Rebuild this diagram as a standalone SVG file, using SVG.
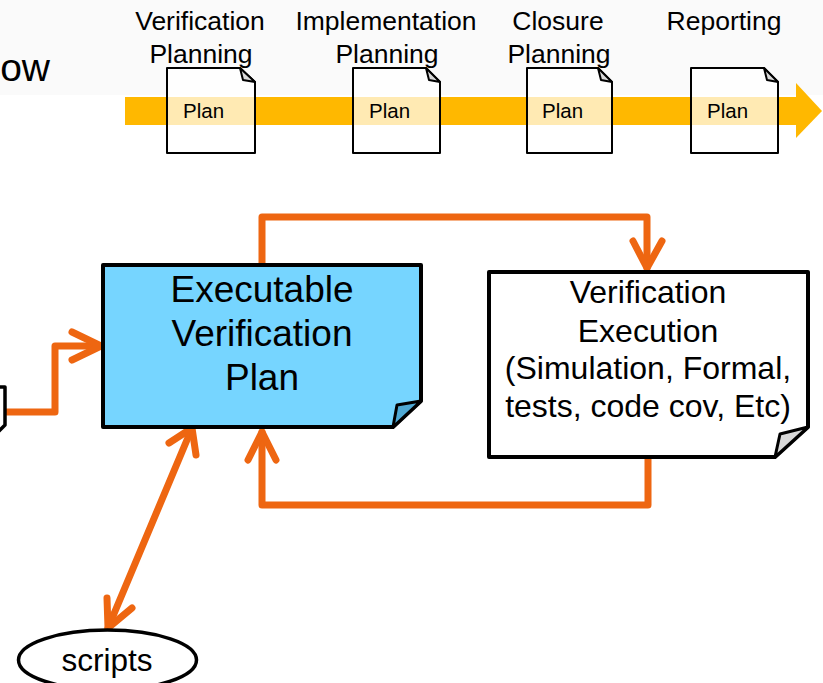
<svg xmlns="http://www.w3.org/2000/svg" width="823" height="683" viewBox="0 0 823 683">
  <style>
    .t { font-family: "Liberation Sans", Arial, sans-serif; fill: #000; }
    .lbl { font-size: 26.5px; text-anchor: middle; }
    .plan { font-size: 20.5px; }
    .doc { fill: #fff; fill-opacity: 0.7; stroke: #000; stroke-width: 2; stroke-linejoin: round; }
    .fold { fill: #d9d9d9; stroke: #000; stroke-width: 2; stroke-linejoin: round; }
    .box { stroke: #000; stroke-width: 4; stroke-linejoin: round; }
    .wire { fill: none; stroke: #EE6611; stroke-width: 7; stroke-linecap: round; stroke-linejoin: round; }
  </style>

  <!-- faint banner behind the top timeline -->
  <rect x="0" y="0" width="823" height="95" fill="#fafafa"/>
  <text class="t" x="50" y="81" font-size="39" text-anchor="end">ow</text>

  <!-- timeline arrow -->
  <g id="timeline">
    <rect x="125" y="97" width="672" height="28" fill="#FFB800"/>
    <polygon points="796,83 822,111 796,138" fill="#FFB800"/>
  </g>

  <!-- phase labels -->
  <g id="phase-labels">
    <text class="t lbl" x="200" y="30">Verification</text>
    <text class="t lbl" x="201" y="63">Planning</text>
    <text class="t lbl" x="386" y="30">Implementation</text>
    <text class="t lbl" x="387" y="63">Planning</text>
    <text class="t lbl" x="558" y="30">Closure</text>
    <text class="t lbl" x="559" y="63">Planning</text>
    <text class="t lbl" x="724" y="30">Reporting</text>
  </g>

  <!-- plan documents -->
  <g id="plan-1">
    <path class="doc" d="M167,68 L240,68 L255,82 L255,153 L167,153 Z"/>
    <path class="fold" d="M240,68 L255,82 L243,80 Z"/>
    <text class="t plan" x="183" y="118">Plan</text>
  </g>
  <g id="plan-2">
    <path class="doc" d="M353,68 L426,68 L440,82 L440,153 L353,153 Z"/>
    <path class="fold" d="M426,68 L440,82 L429,80 Z"/>
    <text class="t plan" x="369" y="118">Plan</text>
  </g>
  <g id="plan-3">
    <path class="doc" d="M527,68 L598,68 L612,82 L612,153 L527,153 Z"/>
    <path class="fold" d="M598,68 L612,82 L601,80 Z"/>
    <text class="t plan" x="542" y="118">Plan</text>
  </g>
  <g id="plan-4">
    <path class="doc" d="M691,68 L764,68 L778,82 L778,153 L691,153 Z"/>
    <path class="fold" d="M764,68 L778,82 L767,80 Z"/>
    <text class="t plan" x="707" y="118">Plan</text>
  </g>

  <!-- connectors -->
  <g id="connectors">
    <!-- left input into the executable plan -->
    <path class="wire" d="M7,412 L55,412 L55,346 L101,346"/>
    <path class="wire" d="M72,332 L101,346 L72,360"/>
    <!-- plan to execution -->
    <path class="wire" d="M262,263 L262,217 L647,217 L647,268"/>
    <path class="wire" d="M633,241 L647,268 L662,241"/>
    <!-- execution results back to plan -->
    <path class="wire" d="M648,459 L648,505 L262,505 L262,432"/>
    <path class="wire" d="M248,460 L262,432 L276,460"/>
    <!-- plan <-> scripts -->
    <path class="wire" d="M192,428 L108,628"/>
    <path class="wire" d="M169,443 L192,428 L196,455"/>
    <path class="wire" d="M107,598 L108,628 L132,608"/>
  </g>

  <!-- partially visible source document at the left edge -->
  <g id="left-doc">
    <path d="M-10,387 L5,387 L5,425 L-2,432 L-10,432" fill="#fff" stroke="#000" stroke-width="3.5" stroke-linejoin="round"/>
  </g>

  <!-- executable verification plan -->
  <g id="exec-plan">
    <path class="box" d="M103,265 L421,265 L421,401 L393,427 L103,427 Z" fill="#76D5FF"/>
    <path d="M421,401 L393,427 L397,405 Z" fill="#4FA9D4" stroke="#000" stroke-width="3" stroke-linejoin="round"/>
    <g class="t" font-size="37" text-anchor="middle">
      <text x="262" y="302">Executable</text>
      <text x="262" y="346">Verification</text>
      <text x="262" y="390">Plan</text>
    </g>
  </g>

  <!-- verification execution -->
  <g id="exec">
    <path class="box" d="M489,272 L808,272 L808,427 L775,457 L489,457 Z" fill="#fff"/>
    <path d="M808,427 L775,457 L780,434 Z" fill="#d8d8d8" stroke="#000" stroke-width="3" stroke-linejoin="round"/>
    <g class="t" font-size="32" text-anchor="middle">
      <text x="648" y="303">Verification</text>
      <text x="648" y="342">Execution</text>
      <text x="648" y="379">(Simulation, Formal,</text>
      <text x="648" y="417">tests, code cov, Etc)</text>
    </g>
  </g>

  <!-- scripts -->
  <g id="scripts">
    <ellipse cx="107.5" cy="660" rx="89" ry="30" fill="#fff" stroke="#000" stroke-width="3.5"/>
    <text class="t" x="107" y="671" font-size="31.5" text-anchor="middle">scripts</text>
  </g>
</svg>
